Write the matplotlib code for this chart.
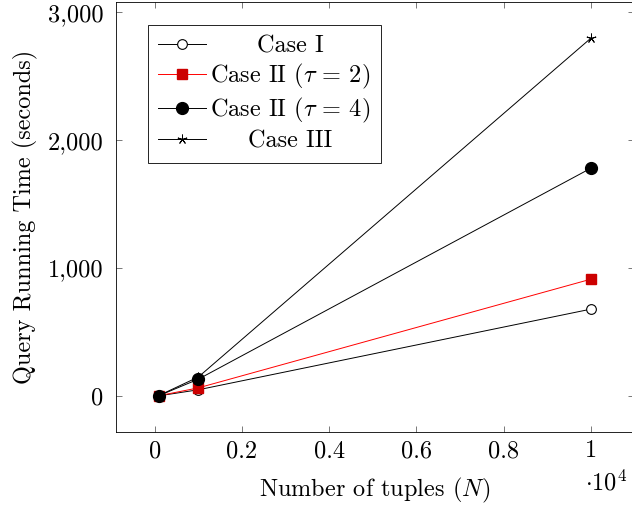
import matplotlib
matplotlib.use("Agg")
import matplotlib.pyplot as plt
from matplotlib.ticker import FuncFormatter, FixedLocator

# data
n_tuples = [100, 1000, 10000]
case_1 = [3, 50, 680]
case_2_tau2 = [4, 65, 914]
case_2_tau4 = [5, 133, 1781]
case_3 = [6, 150, 2797]

x_ticks = [0, 2000, 4000, 6000, 8000, 10000]
y_ticks = [0, 1000, 2000, 3000]

fs = 17.5
plt.rcParams["font.family"] = "serif"
plt.rcParams["font.serif"] = ["cmr10"]
plt.rcParams["mathtext.fontset"] = "cm"
plt.rcParams["axes.formatter.use_mathtext"] = True
plt.rcParams["font.size"] = fs

fig = plt.figure(figsize=(6.32, 5.12), dpi=100)
ax = fig.add_axes([116 / 632, 80 / 512, 518 / 632, 430 / 512])

lw = 0.7
ax.plot(n_tuples, case_1, color="black", lw=lw, marker="o", markersize=7,
        markerfacecolor="white", markeredgecolor="black", markeredgewidth=0.8,
        label="Case I")
ax.plot(n_tuples, case_2_tau2, color="red", lw=lw, marker="s", markersize=7.5,
        markerfacecolor="#cc0000", markeredgecolor="#cc0000",
        label=r"Case II ($\tau$ = 2)")
ax.plot(n_tuples, case_2_tau4, color="black", lw=lw, marker="o", markersize=8.5,
        markerfacecolor="black", markeredgecolor="black",
        label=r"Case II ($\tau$ = 4)")
ax.plot(n_tuples, case_3, color="black", lw=lw, marker=(5, 2, 0), markersize=7,
        markeredgewidth=0.7, label="Case III")

ax.set_xlim(-890, 10990)
ax.set_ylim(-280, 3080)
ax.xaxis.set_major_locator(FixedLocator(x_ticks))
ax.yaxis.set_major_locator(FixedLocator(y_ticks))
ax.xaxis.set_major_formatter(FuncFormatter(lambda v, _: f"{v / 1e4:g}"))
ax.yaxis.set_major_formatter(FuncFormatter(lambda v, _: f"{int(v):,}"))

for s in ax.spines.values():
    s.set_linewidth(0.6)
ax.tick_params(direction="in", length=4, width=0.5, top=True, right=True,
               labelsize=fs, colors="#444444", labelcolor="black")
ax.tick_params(axis="x", pad=6)
ax.tick_params(axis="y", pad=9)

ax.set_xlabel(r"Number of tuples ($N$)", labelpad=10)
ax.set_ylabel("Query Running Time (seconds)", labelpad=7)
ax.text(0.986, -0.135, r"$\cdot 10^4$", transform=ax.transAxes,
        ha="right", va="baseline", fontsize=fs)

leg = ax.legend(loc="upper left", bbox_to_anchor=(32 / 518, 1 - 23 / 430),
                borderaxespad=0, fancybox=False, framealpha=1,
                edgecolor="black", handlelength=1.95, handletextpad=0.2,
                labelspacing=0.2, borderpad=0.42, fontsize=fs)
leg.get_frame().set_linewidth(0.6)

# center legend labels like pgfplots does
fig.canvas.draw()
texts = leg.get_texts()
widths = [t.get_window_extent().width for t in texts]
wmax = max(widths)
for t, w in zip(texts, widths):
    t.set_x((wmax - w) / 2)

fig.savefig("out.png", dpi=100)
